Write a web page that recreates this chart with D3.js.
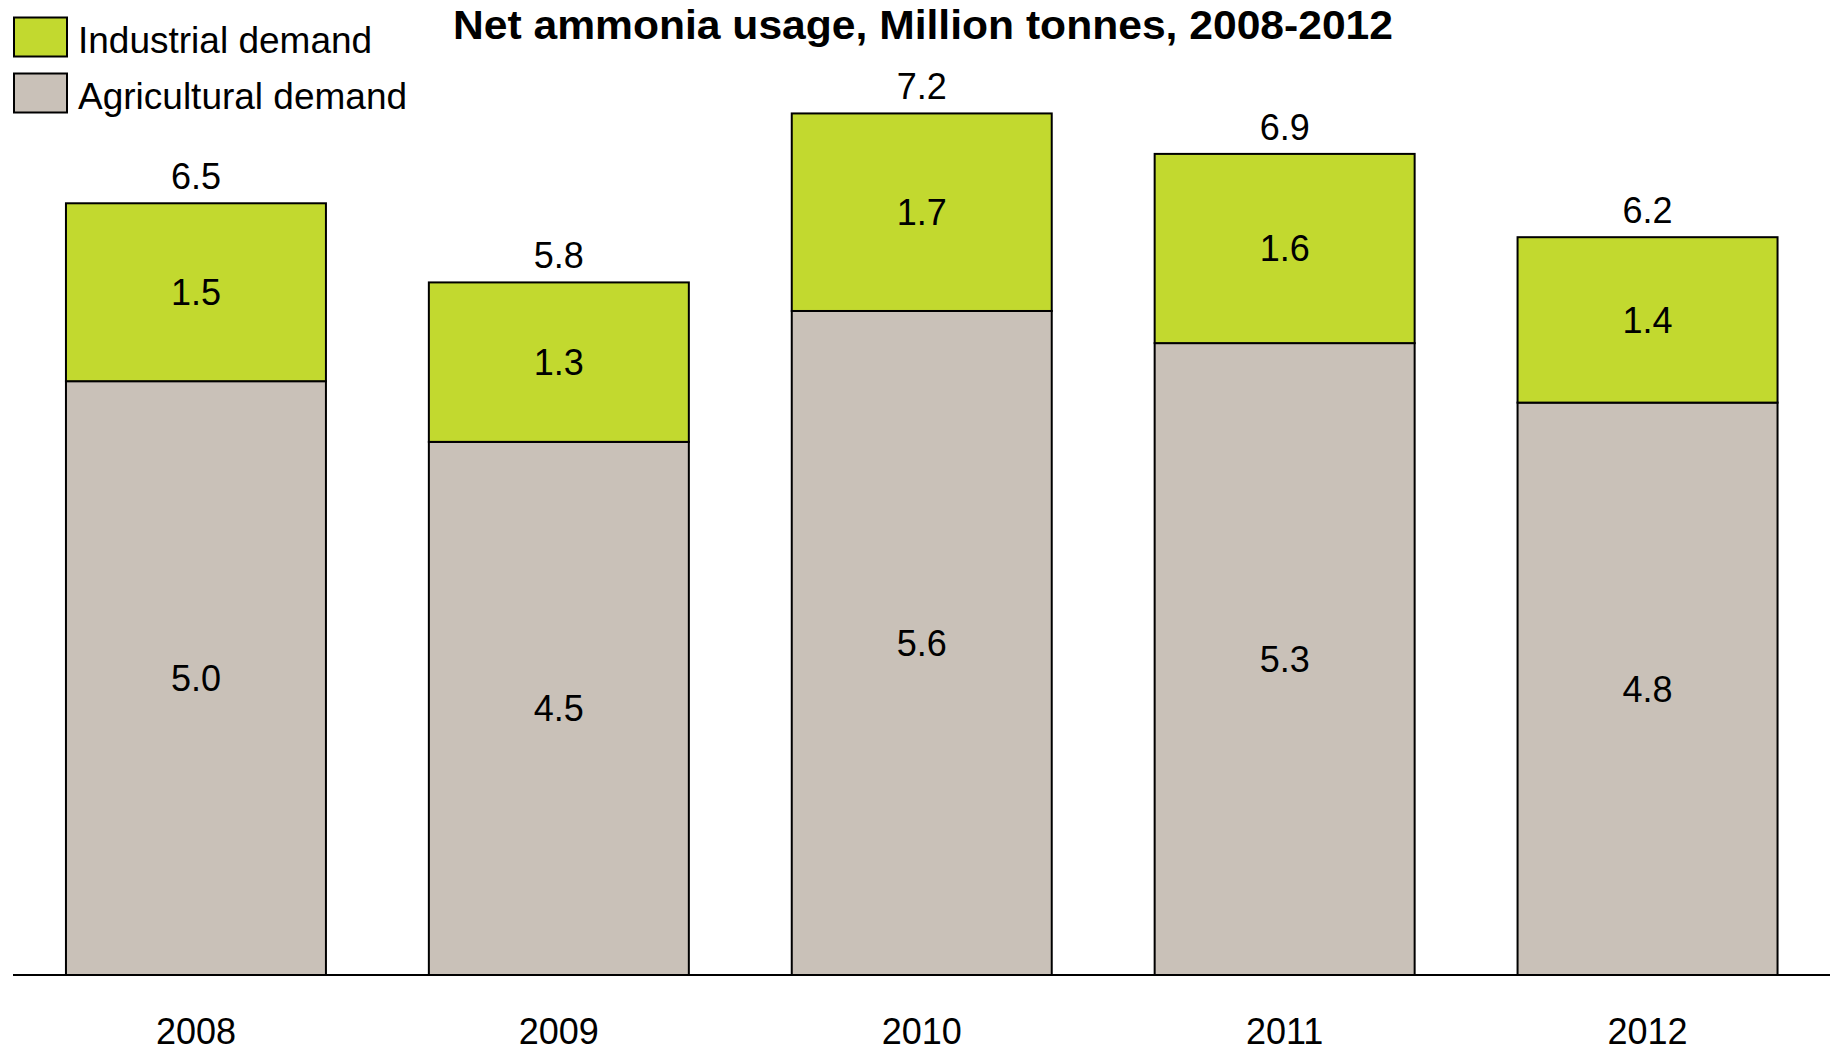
<!DOCTYPE html>
<html>
<head>
<meta charset="utf-8">
<script src="https://cdn.jsdelivr.net/npm/d3@7"></script>
<style>
  html, body { margin: 0; padding: 0; background: #ffffff; }
  svg { display: block; }
  text { font-family: "Liberation Sans", Arial, sans-serif; fill: #000; }
</style>
</head>
<body>
<svg id="chart" width="1837" height="1051"></svg>
<script>
// Data (Million tonnes)
const years = ["2008", "2009", "2010", "2011", "2012"];
const agricultural = [4.99, 4.48, 5.58, 5.31, 4.81];
const industrial = [1.495, 1.34, 1.66, 1.59, 1.39];
const seriesNames = ["Industrial demand", "Agricultural demand"];
const seriesColors = ["#C2D92F", "#C9C1B8"];
const titleText = "Net ammonia usage, Million tonnes, 2008-2012";

const svg = d3.select("#chart");
const baseline = 975;

const x = d3.scaleBand()
  .domain(years)
  .range([14.5, 1829])
  .paddingInner(0.2836)
  .paddingOuter(0.1418);

const y = d3.scaleLinear()
  .domain([0, 8])
  .range([baseline, baseline - 8 * 119]);

const rows = years.map((yr, i) => ({
  year: yr,
  agri: agricultural[i],
  ind: industrial[i]
}));

const stacked = d3.stack().keys(["agri", "ind"])(rows);
const colorByKey = { agri: seriesColors[1], ind: seriesColors[0] };

// Bars
const layers = svg.append("g").selectAll("g")
  .data(stacked)
  .join("g")
  .attr("fill", d => colorByKey[d.key]);

layers.selectAll("rect")
  .data(d => d)
  .join("rect")
  .attr("x", d => x(d.data.year))
  .attr("width", x.bandwidth())
  .attr("y", d => y(d[1]))
  .attr("height", d => y(d[0]) - y(d[1]))
  .attr("stroke", "#000")
  .attr("stroke-width", 2);

// Segment labels
layers.selectAll("text")
  .data(d => d.map(s => ({ s, key: d.key })))
  .join("text")
  .attr("x", d => x(d.s.data.year) + x.bandwidth() / 2)
  .attr("y", d => (y(d.s[0]) + y(d.s[1])) / 2)
  .attr("dy", "0.36em")
  .attr("text-anchor", "middle")
  .attr("font-size", 36)
  .text(d => d.s.data[d.key].toFixed(1));

// Total labels
svg.append("g").selectAll("text")
  .data(rows)
  .join("text")
  .attr("x", d => x(d.year) + x.bandwidth() / 2)
  .attr("y", d => y(d.agri + d.ind) - 14)
  .attr("text-anchor", "middle")
  .attr("font-size", 36)
  .text(d => (d.agri + d.ind).toFixed(1));

// X axis
const xAxis = svg.append("g")
  .attr("transform", `translate(0,${baseline})`)
  .call(d3.axisBottom(x).tickSize(0).tickPadding(0));
xAxis.select(".domain").remove();
xAxis.selectAll("text")
  .attr("font-size", 36)
  .attr("font-family", "Liberation Sans, Arial, sans-serif")
  .attr("fill", "#000")
  .attr("dy", null)
  .attr("y", 69);

svg.append("line")
  .attr("x1", 13).attr("x2", 1830)
  .attr("y1", baseline).attr("y2", baseline)
  .attr("stroke", "#000")
  .attr("stroke-width", 2);

// Title
svg.append("text")
  .attr("x", 453)
  .attr("y", 39)
  .attr("font-size", 40)
  .attr("font-weight", "bold")
  .attr("textLength", 940)
  .attr("lengthAdjust", "spacingAndGlyphs")
  .text(titleText);

// Legend
const legendRows = svg.append("g").selectAll("g")
  .data(seriesNames.map((n, i) => ({ name: n, color: seriesColors[i], i })))
  .join("g")
  .attr("transform", d => `translate(14,${17.5 + d.i * 56})`);
legendRows.append("rect")
  .attr("width", 53)
  .attr("height", 39)
  .attr("fill", d => d.color)
  .attr("stroke", "#000")
  .attr("stroke-width", 2);
legendRows.append("text")
  .attr("x", 64)
  .attr("y", 35)
  .attr("font-size", 37)
  .text(d => d.name);
</script>
</body>
</html>
